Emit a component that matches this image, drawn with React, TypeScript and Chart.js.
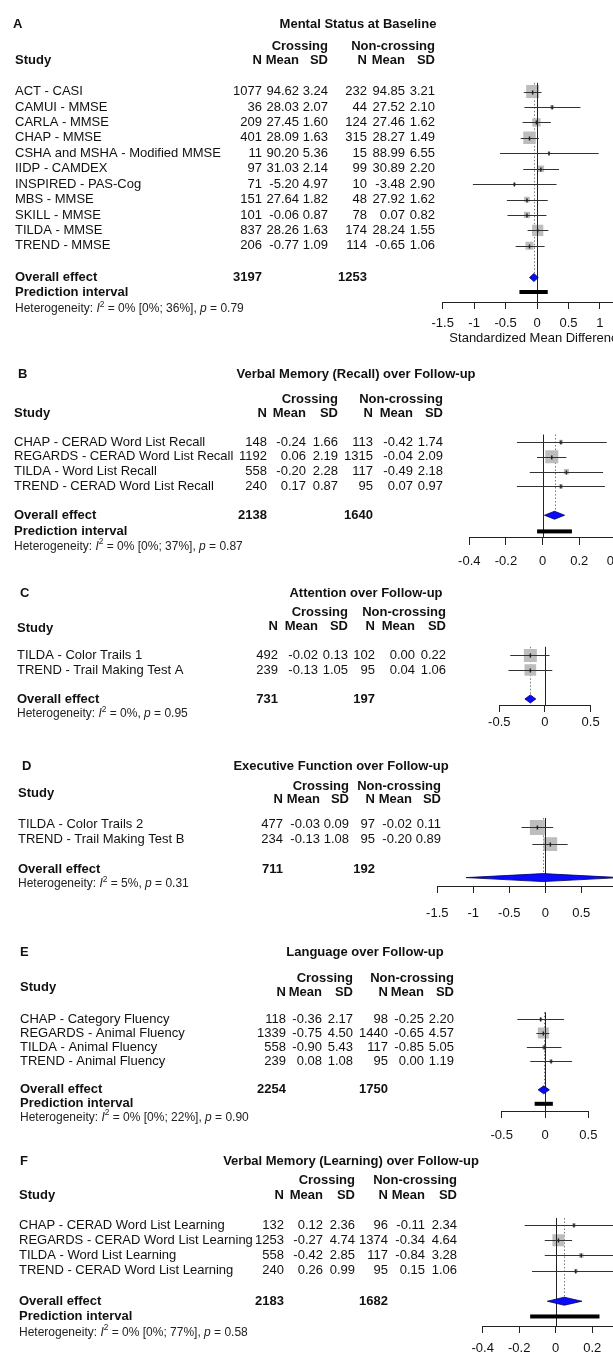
import React, { useEffect, useRef } from "react";
import { Chart, registerables } from "chart.js";
Chart.register(...registerables);

const FONT = '"Liberation Sans", Arial, Helvetica, sans-serif';
const CANVAS_W = 680;

// ---------------- Panel A ----------------
const titleA = "Mental Status at Baseline";
const studiesA = ["ACT - CASI", "CAMUI - MMSE", "CARLA - MMSE", "CHAP - MMSE", "CSHA and MSHA - Modified MMSE", "IIDP - CAMDEX", "INSPIRED - PAS-Cog", "MBS - MMSE", "SKILL - MMSE", "TILDA - MMSE", "TREND - MMSE"];
const crossNA = [1077, 36, 209, 401, 11, 97, 71, 151, 101, 837, 206];
const crossMeanA = [94.62, 28.03, 27.45, 28.09, 90.2, 31.03, -5.2, 27.64, -0.06, 28.26, -0.77];
const crossSDA = [3.24, 2.07, 1.6, 1.63, 5.36, 2.14, 4.97, 1.82, 0.87, 1.63, 1.09];
const ncNA = [232, 44, 124, 315, 15, 99, 10, 48, 78, 174, 114];
const ncMeanA = [94.85, 27.52, 27.46, 28.27, 88.99, 30.89, -3.48, 27.92, 0.07, 28.24, -0.65];
const ncSDA = [3.21, 2.1, 1.62, 1.49, 6.55, 2.2, 2.9, 1.62, 0.82, 1.55, 1.06];
const smdA = [-0.07, 0.24, -0.01, -0.12, 0.19, 0.06, -0.36, -0.16, -0.16, 0.01, -0.12];
const lowerA = [-0.21, -0.2, -0.23, -0.26, -0.59, -0.22, -1.02, -0.48, -0.47, -0.15, -0.34];
const upperA = [0.07, 0.69, 0.22, 0.03, 0.98, 0.35, 0.31, 0.17, 0.15, 0.18, 0.12];
const weightA = [23.1, 2.4, 9.4, 21.3, 0.8, 5.9, 1.1, 4.4, 5.3, 17.4, 8.8];
const overallA = [-0.05, -0.12, 0.02];
const predA = [-0.28, 0.17];
const totalsA = [3197, 1253];
const hetA = ["0%", "[0%; 36%]", "0.79"];
const ticksA = [-1.5, -1, -0.5, 0, 0.5, 1, 1.5];

// ---------------- Panel B ----------------
const titleB = "Verbal Memory (Recall) over Follow-up";
const studiesB = ["CHAP - CERAD Word List Recall", "REGARDS - CERAD Word List Recall", "TILDA - Word List Recall", "TREND - CERAD Word List Recall"];
const crossNB = [148, 1192, 558, 240];
const crossMeanB = [-0.24, 0.06, -0.2, 0.17];
const crossSDB = [1.66, 2.19, 2.28, 0.87];
const ncNB = [113, 1315, 117, 95];
const ncMeanB = [-0.42, -0.04, -0.49, 0.07];
const ncSDB = [1.74, 2.09, 2.18, 0.97];
const smdB = [0.1, 0.05, 0.13, 0.1];
const lowerB = [-0.14, -0.03, -0.07, -0.14];
const upperB = [0.35, 0.13, 0.33, 0.34];
const weightB = [7.5, 73.2, 11.3, 8.0];
const overallB = [0.065, 0.01, 0.12];
const predB = [-0.03, 0.16];
const totalsB = [2138, 1640];
const hetB = ["0%", "[0%; 37%]", "0.87"];
const ticksB = [-0.4, -0.2, 0, 0.2, 0.4];

// ---------------- Panel C ----------------
const titleC = "Attention over Follow-up";
const studiesC = ["TILDA - Color Trails 1", "TREND - Trail Making Test A"];
const crossNC = [492, 239];
const crossMeanC = [-0.02, -0.13];
const crossSDC = [0.13, 1.05];
const ncNC = [102, 95];
const ncMeanC = [0.0, 0.04];
const ncSDC = [0.22, 1.06];
const smdC = [-0.16, -0.16];
const lowerC = [-0.38, -0.4];
const upperC = [0.05, 0.08];
const weightC = [55.4, 44.6];
const overallC = [-0.16, -0.22, -0.1];
const totalsC = [731, 197];
const hetC = ["0%", "", "0.95"];
const ticksC = [-0.5, 0, 0.5];

// ---------------- Panel D ----------------
const titleD = "Executive Function over Follow-up";
const studiesD = ["TILDA - Color Trails 2", "TREND - Trail Making Test B"];
const crossND = [477, 234];
const crossMeanD = [-0.03, -0.13];
const crossSDD = [0.09, 1.08];
const ncND = [97, 95];
const ncMeanD = [-0.02, -0.2];
const ncSDD = [0.11, 0.89];
const smdD = [-0.11, 0.07];
const lowerD = [-0.33, -0.18];
const upperD = [0.11, 0.31];
const weightD = [54.4, 45.6];
const overallD = [-0.03, -1.1, 1.04];
const totalsD = [711, 192];
const hetD = ["5%", "", "0.31"];
const ticksD = [-1.5, -1, -0.5, 0, 0.5, 1, 1.5];

// ---------------- Panel E ----------------
const titleE = "Language over Follow-up";
const studiesE = ["CHAP - Category Fluency", "REGARDS - Animal Fluency", "TILDA - Animal Fluency", "TREND - Animal Fluency"];
const crossNE = [118, 1339, 558, 239];
const crossMeanE = [-0.36, -0.75, -0.9, 0.08];
const crossSDE = [2.17, 4.5, 5.43, 1.08];
const ncNE = [98, 1440, 117, 95];
const ncMeanE = [-0.25, -0.65, -0.85, 0.0];
const ncSDE = [2.2, 4.57, 5.05, 1.19];
const smdE = [-0.05, -0.02, -0.01, 0.07];
const lowerE = [-0.32, -0.1, -0.21, -0.17];
const upperE = [0.22, 0.05, 0.19, 0.31];
const weightE = [5.9, 76.1, 10.6, 7.5];
const overallE = [-0.015, -0.08, 0.05];
const predE = [-0.12, 0.09];
const totalsE = [2254, 1750];
const hetE = ["0%", "[0%; 22%]", "0.90"];
const ticksE = [-0.5, 0, 0.5];

// ---------------- Panel F ----------------
const titleF = "Verbal Memory (Learning) over Follow-up";
const studiesF = ["CHAP - CERAD Word List Learning", "REGARDS - CERAD Word List Learning", "TILDA - Word List Learning", "TREND - CERAD Word List Learning"];
const crossNF = [132, 1253, 558, 240];
const crossMeanF = [0.12, -0.27, -0.42, 0.26];
const crossSDF = [2.36, 4.74, 2.85, 0.99];
const ncNF = [96, 1374, 117, 95];
const ncMeanF = [-0.11, -0.34, -0.84, 0.15];
const ncSDF = [2.34, 4.64, 3.28, 1.06];
const smdF = [0.1, 0.015, 0.14, 0.11];
const lowerF = [-0.17, -0.06, -0.06, -0.13];
const upperF = [0.36, 0.09, 0.34, 0.35];
const weightF = [6.4, 74.9, 11.1, 7.8];
const overallF = [0.047, -0.046, 0.144];
const predF = [-0.14, 0.24];
const totalsF = [2183, 1682];
const hetF = ["0%", "[0%; 77%]", "0.58"];
const ticksF = [-0.4, -0.2, 0, 0.2, 0.4];

// ---------------- Layout (positions / sizes only) ----------------
const layoutA = { top: 0, height: 350, fs: 13, rowY0: 85, rowStep: 15.9, axisY: 302, tickLabelY: 323, axisTitleY: 338, pxMin: 442.7, pxMax: 631.4, labelX: 13, studyX: 15, cols: [262, 299, 328, 367, 405, 435], titleCX: 358, rows: { title: -4.34, cross: -2.96, nmsd: -2.0, study: -2.0, overall: 12.06, pred: 13.0, het: 14.09 }, refTop: -0.57, maxBox: 13 };
const layoutB = { top: 350, height: 225, fs: 13, rowY0: 437, rowStep: 15.6, axisY: 538, tickLabelY: 561, pxMin: 469.3, pxMax: 615.9, labelX: 18, studyX: 14, cols: [267, 306, 338, 373, 413, 443], titleCX: 356, rows: { title: -4.55, cross: -2.88, nmsd: -1.92, study: -1.92, overall: 4.94, pred: 6.03, het: 7.05 }, refTop: -0.5, maxBox: 13 };
const layoutC = { top: 575, height: 160, fs: 13, rowY0: 651.7, rowStep: 15.6, axisY: 705, tickLabelY: 722, pxMin: 499.3, pxMax: 590.6, labelX: 20, studyX: 17, cols: [278, 318, 348, 375, 415, 446], titleCX: 366, rows: { title: -4.28, cross: -3.0, nmsd: -1.99, study: -1.86, overall: 3.0, het: 4.02 }, refTop: -0.6, maxBox: 13 };
const layoutD = { top: 735, height: 190, fs: 13, rowY0: 820, rowStep: 16, axisY: 886, tickLabelY: 913, pxMin: 437.3, pxMax: 653.3, labelX: 22, studyX: 18, cols: [283, 320, 349, 375, 412, 441], titleCX: 341, rows: { title: -3.88, cross: -2.56, nmsd: -1.69, study: -2.08, overall: 3.0, het: 4.0 }, markRows: [0.19, 1.31], diamondRow: 3.56, refTop: -0.45, maxBox: 15 };
const layoutE = { top: 925, height: 220, fs: 13, rowY0: 1015, rowStep: 14.7, axisY: 1111, tickLabelY: 1135, pxMin: 501.7, pxMax: 588.4, labelX: 20, studyX: 20, cols: [286, 322, 353, 388, 424, 454], titleCX: 365, rows: { title: -4.76, cross: -2.86, nmsd: -1.9, study: -2.24, overall: 5.03, pred: 6.02, het: 7.0 }, refTop: -0.48, maxBox: 11 };
const layoutF = { top: 1145, height: 210, fs: 13, rowY0: 1220, rowStep: 16, axisY: 1326, tickLabelY: 1348, pxMin: 482.7, pxMax: 628.7, labelX: 20, studyX: 19, cols: [284, 323, 355, 388, 425, 457], titleCX: 351, rows: { title: -4.19, cross: -2.94, nmsd: -1.94, study: -1.94, overall: 5.0, pred: 6.0, het: 7.04 }, refTop: -0.46, maxBox: 12 };

const panels: any[] = [
  { key: "A", title: titleA, studies: studiesA, cN: crossNA, cM: crossMeanA, cS: crossSDA, nN: ncNA, nM: ncMeanA, nS: ncSDA, est: smdA, lo: lowerA, hi: upperA, w: weightA, overall: overallA, pred: predA, totals: totalsA, het: hetA, ticks: ticksA, axisTitle: "Standardized Mean Difference", L: layoutA },
  { key: "B", title: titleB, studies: studiesB, cN: crossNB, cM: crossMeanB, cS: crossSDB, nN: ncNB, nM: ncMeanB, nS: ncSDB, est: smdB, lo: lowerB, hi: upperB, w: weightB, overall: overallB, pred: predB, totals: totalsB, het: hetB, ticks: ticksB, L: layoutB },
  { key: "C", title: titleC, studies: studiesC, cN: crossNC, cM: crossMeanC, cS: crossSDC, nN: ncNC, nM: ncMeanC, nS: ncSDC, est: smdC, lo: lowerC, hi: upperC, w: weightC, overall: overallC, pred: null, totals: totalsC, het: hetC, ticks: ticksC, L: layoutC },
  { key: "D", title: titleD, studies: studiesD, cN: crossND, cM: crossMeanD, cS: crossSDD, nN: ncND, nM: ncMeanD, nS: ncSDD, est: smdD, lo: lowerD, hi: upperD, w: weightD, overall: overallD, pred: null, totals: totalsD, het: hetD, ticks: ticksD, L: layoutD },
  { key: "E", title: titleE, studies: studiesE, cN: crossNE, cM: crossMeanE, cS: crossSDE, nN: ncNE, nM: ncMeanE, nS: ncSDE, est: smdE, lo: lowerE, hi: upperE, w: weightE, overall: overallE, pred: predE, totals: totalsE, het: hetE, ticks: ticksE, L: layoutE },
  { key: "F", title: titleF, studies: studiesF, cN: crossNF, cM: crossMeanF, cS: crossSDF, nN: ncNF, nM: ncMeanF, nS: ncSDF, est: smdF, lo: lowerF, hi: upperF, w: weightF, overall: overallF, pred: predF, totals: totalsF, het: hetF, ticks: ticksF, L: layoutF },
];

const TEXT = "#111";

function txt(ctx: any, s: string, x: number, y: number, align: string, bold: boolean, size: number) {
  ctx.font = `${bold ? "bold " : ""}${size}px ${FONT}`;
  ctx.textAlign = align;
  ctx.textBaseline = "middle";
  ctx.fillStyle = TEXT;
  ctx.fillText(s, x, y);
}

function drawHet(ctx: any, x: number, y: number, het: string[], size: number) {
  const segs = [
    { t: "Heterogeneity: ", it: false, sup: false },
    { t: "I", it: true, sup: false },
    { t: "2", it: false, sup: true },
    { t: " = " + het[0] + (het[1] ? " " + het[1] : "") + ", ", it: false, sup: false },
    { t: "p", it: true, sup: false },
    { t: " = " + het[2], it: false, sup: false },
  ];
  let cx = x;
  ctx.textAlign = "left";
  ctx.textBaseline = "middle";
  ctx.fillStyle = "#222";
  for (const s of segs) {
    const fs = s.sup ? size * 0.7 : size;
    ctx.font = `${s.it ? "italic " : ""}${fs}px ${FONT}`;
    ctx.fillText(s.t, cx, s.sup ? y - size * 0.38 : y);
    cx += ctx.measureText(s.t).width;
  }
}

function makePlugin(p: any) {
  const L = p.L;
  const FS = L.fs;
  const markRows = L.markRows || p.est.map((_: any, i: number) => i);
  const dRow = L.diamondRow !== undefined ? L.diamondRow : L.rows.overall;
  const DH = 4;
  return {
    id: "forest" + p.key,
    beforeDatasetsDraw(chart: any) {
      const ctx = chart.ctx;
      const xs = chart.scales.x;
      const ys = chart.scales.y;
      const x = Math.round(xs.getPixelForValue(p.overall[0])) + 0.5;
      ctx.save();
      ctx.strokeStyle = "#777";
      ctx.lineWidth = 1;
      ctx.setLineDash([1.5, 2]);
      ctx.beginPath();
      ctx.moveTo(x, ys.getPixelForValue(L.refTop));
      ctx.lineTo(x, ys.getPixelForValue(dRow) - DH);
      ctx.stroke();
      ctx.restore();
    },
    afterDatasetsDraw(chart: any) {
      const ctx = chart.ctx;
      const xs = chart.scales.x;
      const ys = chart.scales.y;
      ctx.save();
      const x0 = Math.round(xs.getPixelForValue(0)) + 0.5;
      ctx.strokeStyle = "#222";
      ctx.lineWidth = 1;
      ctx.beginPath();
      ctx.moveTo(x0, ys.getPixelForValue(L.refTop));
      ctx.lineTo(x0, chart.chartArea.bottom);
      ctx.stroke();
      for (let i = 0; i < p.est.length; i++) {
        const y = Math.round(ys.getPixelForValue(markRows[i])) + 0.5;
        ctx.strokeStyle = "#333";
        ctx.beginPath();
        ctx.moveTo(xs.getPixelForValue(p.lo[i]), y);
        ctx.lineTo(xs.getPixelForValue(p.hi[i]), y);
        ctx.stroke();
        const xe = xs.getPixelForValue(p.est[i]);
        ctx.fillStyle = "#222";
        ctx.fillRect(xe - 0.75, y - 2, 1.5, 4);
      }
      const yd = ys.getPixelForValue(dRow);
      const xc = xs.getPixelForValue(p.overall[0]);
      const xl = xs.getPixelForValue(p.overall[1]);
      const xr = xs.getPixelForValue(p.overall[2]);
      ctx.beginPath();
      ctx.moveTo(xl, yd);
      ctx.lineTo(xc, yd - DH);
      ctx.lineTo(xr, yd);
      ctx.lineTo(xc, yd + DH);
      ctx.closePath();
      ctx.fillStyle = "#0a0aff";
      ctx.fill();
      ctx.strokeStyle = "#00005a";
      ctx.lineWidth = 0.8;
      ctx.stroke();
      if (p.pred) {
        const yp = ys.getPixelForValue(L.rows.pred);
        const a = xs.getPixelForValue(p.pred[0]);
        const b = xs.getPixelForValue(p.pred[1]);
        ctx.fillStyle = "#000";
        ctx.fillRect(a, yp - 2, b - a, 4);
      }
      ctx.restore();
    },
    afterDraw(chart: any) {
      const ctx = chart.ctx;
      const ys = chart.scales.y;
      const R = L.rows;
      const c = L.cols;
      ctx.save();
      const Y = (r: number) => ys.getPixelForValue(r);
      txt(ctx, p.key, L.labelX, Y(R.title), "left", true, FS);
      txt(ctx, p.title, L.titleCX, Y(R.title), "center", true, FS);
      txt(ctx, "Crossing", c[2], Y(R.cross), "right", true, FS);
      txt(ctx, "Non-crossing", c[5], Y(R.cross), "right", true, FS);
      txt(ctx, "Study", L.studyX, Y(R.study), "left", true, FS);
      const hdr = ["N", "Mean", "SD", "N", "Mean", "SD"];
      hdr.forEach((h, i) => txt(ctx, h, c[i], Y(R.nmsd), "right", true, FS));
      for (let i = 0; i < p.studies.length; i++) {
        const y = Y(i);
        txt(ctx, p.studies[i], L.studyX, y, "left", false, FS);
        const vals = [String(p.cN[i]), p.cM[i].toFixed(2), p.cS[i].toFixed(2), String(p.nN[i]), p.nM[i].toFixed(2), p.nS[i].toFixed(2)];
        vals.forEach((v, j) => txt(ctx, v, c[j], y, "right", false, FS));
      }
      txt(ctx, "Overall effect", L.studyX, Y(R.overall), "left", true, FS);
      txt(ctx, String(p.totals[0]), c[0], Y(R.overall), "right", true, FS);
      txt(ctx, String(p.totals[1]), c[3], Y(R.overall), "right", true, FS);
      if (p.pred) txt(ctx, "Prediction interval", L.studyX, Y(R.pred), "left", true, FS);
      drawHet(ctx, L.studyX, Y(R.het), p.het, FS - 1);
      ctx.restore();
    },
  };
}

function buildConfig(p: any) {
  const L = p.L;
  const FS = L.fs;
  const H = L.height;
  const axisRel = L.axisY - L.top;
  const y0Rel = L.rowY0 - L.top;
  const rMin = -y0Rel / L.rowStep;
  const rMax = (axisRel - y0Rel) / L.rowStep;
  const maxW = Math.max(...p.w);
  const radii = p.w.map((w: number) => (L.maxBox * Math.sqrt(w / maxW)) / Math.SQRT2);
  const markRows = L.markRows || p.est.map((_: any, i: number) => i);
  const tickLen = 7;
  const lh = FS * 1.2;
  const tickPad = L.tickLabelY - L.axisY - tickLen - lh / 2;
  const titlePadBottom = L.axisTitleY ? H - L.axisTitleY - lh / 2 : 0;
  return {
    type: "scatter",
    data: {
      datasets: [
        {
          data: p.est.map((x: number, i: number) => ({ x, y: markRows[i] })),
          pointStyle: "rect",
          pointRadius: radii,
          pointHoverRadius: radii,
          pointBackgroundColor: "#bdbdbd",
          pointBorderWidth: 0,
          borderWidth: 0,
          showLine: false,
        },
      ],
    },
    options: {
      responsive: false,
      animation: false,
      events: [],
      layout: { padding: { left: L.pxMin, right: CANVAS_W - L.pxMax, top: 0, bottom: 0 } },
      plugins: { legend: { display: false }, tooltip: { enabled: false } },
      scales: {
        x: {
          type: "linear",
          position: "bottom",
          min: p.ticks[0],
          max: p.ticks[p.ticks.length - 1],
          afterBuildTicks: (s: any) => {
            s.ticks = p.ticks.map((v: number) => ({ value: v }));
          },
          afterFit: (s: any) => {
            s.height = H - axisRel;
          },
          ticks: {
            color: TEXT,
            font: { family: FONT, size: FS },
            padding: tickPad,
            autoSkip: false,
            maxRotation: 0,
            callback: (v: any) => String(Number(Number(v).toFixed(2))),
          },
          grid: { drawOnChartArea: false, drawTicks: true, tickLength: tickLen, color: "#222", tickColor: "#222", lineWidth: 1 },
          border: { display: true, color: "#222", width: 1 },
          title: {
            display: !!p.axisTitle,
            text: p.axisTitle || "",
            color: TEXT,
            font: { family: FONT, size: FS },
            padding: { top: 0, bottom: titlePadBottom },
          },
        },
        y: { type: "linear", display: false, reverse: true, min: rMin, max: rMax },
      },
    },
    plugins: [makePlugin(p)],
  };
}

function ForestPanel({ p }: { p: any }) {
  const ref = useRef<HTMLCanvasElement | null>(null);
  useEffect(() => {
    const chart = new Chart(ref.current as any, buildConfig(p) as any);
    return () => chart.destroy();
  }, []);
  return (
    <canvas
      ref={ref}
      width={CANVAS_W}
      height={p.L.height}
      style={{ position: "absolute", left: 0, top: p.L.top, width: CANVAS_W, height: p.L.height }}
    />
  );
}

export default function App() {
  return (
    <div style={{ position: "absolute", left: 0, top: 0, width: 613, height: 1355, overflow: "hidden", background: "#fff" }}>
      {panels.map((p) => (
        <ForestPanel key={p.key} p={p} />
      ))}
    </div>
  );
}
